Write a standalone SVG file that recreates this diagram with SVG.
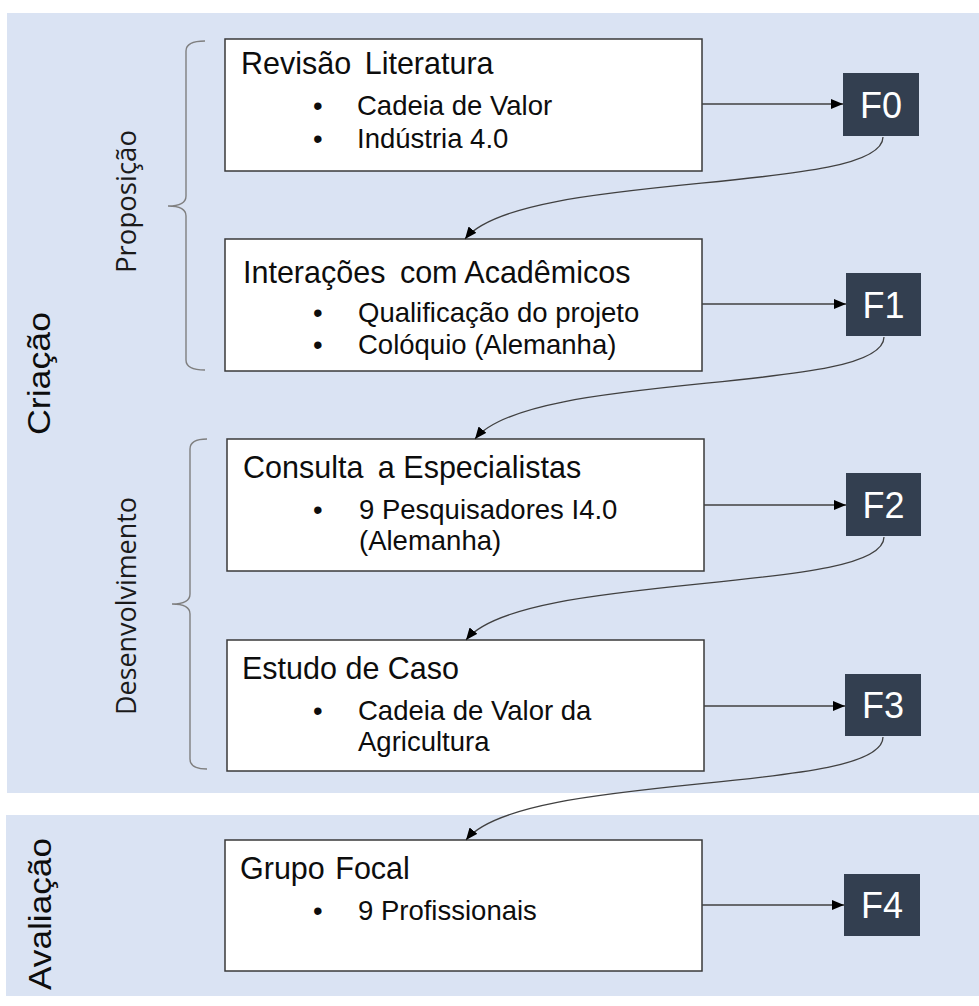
<svg xmlns="http://www.w3.org/2000/svg" width="979" height="1006" viewBox="0 0 979 1006">
  <style>
    .panel { fill: #dae3f3; }
    .box { fill: #ffffff; stroke: #3a3a3a; stroke-width: 1.5; }
    .tag { fill: #333f50; }
    .tagtxt { font-family: "Liberation Sans", Arial, sans-serif; font-size: 36px; fill: #ffffff; text-anchor: middle; }
    .title { font-family: "Liberation Sans", Arial, sans-serif; font-size: 30.5px; fill: #0d0d0d; }
    .item { font-family: "Liberation Sans", Arial, sans-serif; font-size: 27.5px; fill: #0d0d0d; }
    .phase { font-family: "Liberation Sans", Arial, sans-serif; font-size: 31px; fill: #0d0d0d; text-anchor: middle; }
    .stage { font-family: "Open Sans", "Noto Sans", sans-serif; font-size: 27px; fill: #1a1a1a; text-anchor: middle; }
    .brace { fill: none; stroke: #7f7f7f; stroke-width: 1.4; }
    .link { fill: none; stroke: #404040; stroke-width: 1.3; }
  </style>
  <defs>
    <marker id="head" markerUnits="userSpaceOnUse" markerWidth="12" markerHeight="10" refX="12" refY="5" orient="auto">
      <path d="M0,0 L12,5 L0,10 Z" fill="#000000"/>
    </marker>
  </defs>

  <!-- phase backgrounds -->
  <rect class="panel" x="7" y="13" width="972" height="780"/>
  <rect class="panel" x="6" y="815" width="973" height="181"/>

  <!-- phase labels -->
  <text class="phase" transform="translate(50,373.5) rotate(-90)" textLength="123" lengthAdjust="spacingAndGlyphs">Criação</text>
  <text class="phase" transform="translate(51,914) rotate(-90)" font-size="32" textLength="152" lengthAdjust="spacingAndGlyphs">Avaliação</text>

  <!-- stage labels and braces -->
  <g id="stage-proposicao">
    <path class="brace" d="M205,41 Q186,41 186,51 L186,196 Q186,206 168,206 Q186,206 186,216 L186,360 Q186,370 205,370"/>
    <text class="stage" transform="translate(136,201.5) rotate(-90)" textLength="143" lengthAdjust="spacingAndGlyphs">Proposição</text>
  </g>
  <g id="stage-desenvolvimento">
    <path class="brace" d="M207,439 Q190,439 190,449 L190,594 Q190,604 172,604 Q190,604 190,614 L190,759 Q190,769 207,769"/>
    <text class="stage" transform="translate(136,606) rotate(-90)" textLength="218" lengthAdjust="spacingAndGlyphs">Desenvolvimento</text>
  </g>

  <!-- activity boxes -->
  <g id="revisao">
    <rect class="box" x="225" y="39" width="477" height="132"/>
    <text class="title" x="241" y="74">Revisão <tspan dx="5">Literatura</tspan></text>
    <text class="item" x="313" y="115">•</text>
    <text class="item" x="357" y="115">Cadeia de Valor</text>
    <text class="item" x="313" y="148">•</text>
    <text class="item" x="357" y="148">Indústria 4.0</text>
  </g>
  <g id="interacoes">
    <rect class="box" x="225" y="239" width="477" height="132"/>
    <text class="title" x="243" y="283">Interações <tspan dx="6">com Acadêmicos</tspan></text>
    <text class="item" x="313" y="322">•</text>
    <text class="item" x="358" y="322">Qualificação do projeto</text>
    <text class="item" x="313" y="354">•</text>
    <text class="item" x="358" y="354">Colóquio (Alemanha)</text>
  </g>
  <g id="consulta">
    <rect class="box" x="227" y="439" width="477" height="132"/>
    <text class="title" x="243" y="478">Consulta <tspan dx="6">a Especialistas</tspan></text>
    <text class="item" x="313" y="519">•</text>
    <text class="item" x="359" y="519">9 Pesquisadores I4.0</text>
    <text class="item" x="359" y="550">(Alemanha)</text>
  </g>
  <g id="estudo">
    <rect class="box" x="227" y="640" width="477" height="131"/>
    <text class="title" x="242" y="679">Estudo de Caso</text>
    <text class="item" x="313" y="720">•</text>
    <text class="item" x="358" y="720">Cadeia de Valor da</text>
    <text class="item" x="358" y="751">Agricultura</text>
  </g>
  <g id="grupo">
    <rect class="box" x="225" y="840" width="477" height="131"/>
    <text class="title" x="240" y="879">Grupo <tspan dx="2">Focal</tspan></text>
    <text class="item" x="313" y="920">•</text>
    <text class="item" x="358" y="920">9 Profissionais</text>
  </g>

  <!-- outcome tags -->
  <g id="f0"><rect class="tag" x="843" y="73" width="76" height="63"/><text class="tagtxt" x="881" y="118">F0</text></g>
  <g id="f1"><rect class="tag" x="846" y="273" width="75" height="63"/><text class="tagtxt" x="883.5" y="318">F1</text></g>
  <g id="f2"><rect class="tag" x="846" y="473" width="75" height="63"/><text class="tagtxt" x="883.5" y="518">F2</text></g>
  <g id="f3"><rect class="tag" x="845" y="674" width="76" height="62"/><text class="tagtxt" x="883" y="718">F3</text></g>
  <g id="f4"><rect class="tag" x="844" y="874" width="76" height="62"/><text class="tagtxt" x="882" y="918">F4</text></g>

  <!-- connectors -->
  <g id="connectors">
    <line class="link" x1="702" y1="104" x2="843" y2="104" marker-end="url(#head)"/>
    <line class="link" x1="702" y1="304" x2="846" y2="304" marker-end="url(#head)"/>
    <line class="link" x1="704" y1="505" x2="846" y2="505" marker-end="url(#head)"/>
    <line class="link" x1="704" y1="706" x2="845" y2="706" marker-end="url(#head)"/>
    <line class="link" x1="702" y1="905" x2="844" y2="905" marker-end="url(#head)"/>
    <path class="link" d="M883,137 C883,195 520,170 465,239" marker-end="url(#head)"/>
    <path class="link" d="M884,337 C884,395 530,370 475,439" marker-end="url(#head)"/>
    <path class="link" d="M884,537 C884,595 521,571 466,640" marker-end="url(#head)"/>
    <path class="link" d="M883,737 C883,795 521,771 466,840" marker-end="url(#head)"/>
  </g>
</svg>
